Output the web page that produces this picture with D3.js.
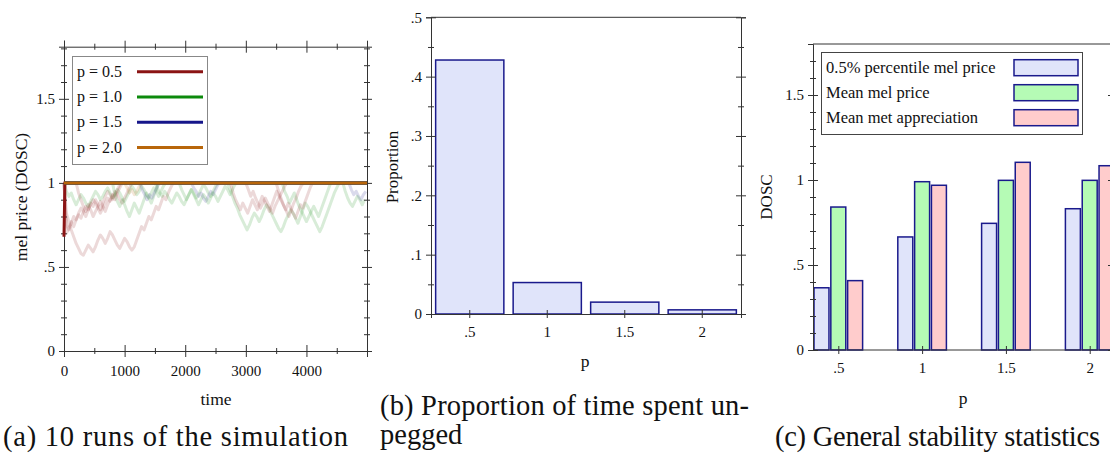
<!DOCTYPE html>
<meta charset="utf-8">
<script src="https://cdn.jsdelivr.net/npm/d3@7"></script>
<style>
  body { margin: 0; background: #fff; }
  svg text { font-family: "Liberation Serif", "DejaVu Serif", serif; fill: #111; }
</style>
<div id="fig"></div>
<script>

// ---------- data ----------
// (a) price runs
var runLabels = ["p = 0.5", "p = 1.0", "p = 1.5", "p = 2.0"];
var runColors = ["#8b1414", "#0c8a0c", "#16168a", "#b8660a"];
// solid lines (mostly pegged at 1)
var mainTimes = [[0, 15, 4999], [0, 4999], [0, 4999], [0, 4999]];
var mainVals  = [[0.68, 1, 1], [1, 1], [1, 1], [1, 1]];
// faded individual runs: which p, start time, one value every traceStep
var traceStep = 40;
var traceRun   = [0, 0, 0, 1, 1, 1, 0, 2, 2, 1, 0, 1, 0, 1, 0, 1, 3, 2];
var traceStart = [0, 0, 0, 0, 1500, 2700, 2750, 2100, 4700, 4600, 3500, 800, 200, 1900, 3000, 3600, 1000, 1250];
var traceVals = [
  [1, .82, .77, .72, .68, .64, .61, .58, .57, .60, .63, .61, .59, .62, .66, .69, .67, .64, .67, .71, .69, .66, .63, .61, .64, .67, .65, .62, .60, .62, .66, .70, .74, .72, .76, .80, .78, .82, .86, .84, .88, .92, .90, .94, .97, 1],
  [1, .75, .72, .76, .80, .78, .82, .85, .83, .80, .84, .88, .86, .90, .87, .84, .88, .92, .95, .93, .90, .93, .96, .99, 1],
  [1, .70, .73, .77, .74, .78, .81, .79, .83, .86, .84, .87, .90, .88, .85, .82, .85, .88, .91, .89, .92, .95, .93, .90, .88, .91, .94, .97, 1],
  [1, .95, .92, .94, .90, .87, .90, .93, .91, .88, .86, .89, .92, .95, .93, .90, .92, .95, .97, .94, .91, .93, .96, .94, .91, .89, .92, .95, .98, .96, .93, .95, .98, .96, .93, .91, .94, .97, .95, .92, .95, .98, 1],
  [1, .97, .94, .92, .95, .93, .90, .88, .91, .94, .92, .89, .87, .90, .93, .96, .94, .91, .93, .96, .99, .97, .94, .92, .95, .98, 1],
  [1, .96, .92, .88, .85, .81, .78, .75, .72, .75, .79, .82, .80, .77, .80, .84, .87, .85, .82, .79, .76, .73, .71, .74, .78, .81, .84, .82, .79, .76, .80, .84, .88, .86, .83, .80, .77, .74, .71, .74, .78, .82, .86, .90, .94, .97, 1],
  [1, .94, .90, .87, .84, .88, .85, .82, .86, .90, .87, .84, .88, .92, .89, .86, .83, .87, .91, .95, .92, .89, .86, .83, .80, .84, .88, .91, .95, .98, 1],
  [1, .97, .95, .92, .94, .91, .89, .92, .95, .93, .96, .99, 1],
  [1, .96, .93, .95, .92, .90, .93, .95],
  [1, .95, .91, .88, .86, .89, .92, .90, .87, .90],
  [1, .95, .91, .87, .84, .88, .85, .82, .79, .83, .87, .85, .89, .93, .97, 1],
  [1, .93, .89, .86, .90, .87, .83, .80, .84, .88, .85, .82, .86, .90, .94, .91, .88, .92, .96, 1],
  [1, .94, .90, .86, .83, .87, .84, .80, .83, .86, .89, .86, .83, .87, .90, .93, .90, .94, .97, 1],
  [1, .96, .93, .90, .93, .96, .93, .90, .87, .90, .93, .91, .88, .91, .94, .92, .89, .92, .95, .98, .96, .93, .96, .99, 1],
  [1, .96, .92, .95, .91, .88, .85, .88, .91, .88, .85, .82, .86, .89, .92, .95, .98, 1],
  [1, .95, .92, .88, .91, .94, .90, .86, .83, .80, .77, .80, .83, .86, .83, .80, .84, .88, .92, .96, 1],
  [1, .97, .94, .96, .93, .95, .98, 1],
  [1, .96, .93, .90, .93, .91, .94, .97, 1]
];

// (b) proportion of time unpegged
var pCats = [".5", "1", "1.5", "2"];
var unpegged = [0.428, 0.053, 0.020, 0.007];

// (c) stability stats
var statNames = ["0.5% percentile mel price", "Mean mel price", "Mean met appreciation"];
var pct05Mel = [0.366, 0.665, 0.745, 0.831];
var meanMel  = [0.841, 0.990, 0.998, 0.998];
var meanMet  = [0.408, 0.969, 1.104, 1.084];

// ---------- helpers ----------
var fmt = function(d) { return d === 0 ? "0" : String(+d.toFixed(2)).replace(/^0\./, "."); };
var axisColor = "#333";

// Racket-style ticks: crossing the axis line
function crossTicks(g, len) {
  g.selectAll(".tick line").attr("stroke", axisColor)
  g.selectAll(".tick line").each(function() {
    var l = d3.select(this);
    if (l.attr("x2") != null && +l.attr("x2") !== 0) l.attr("x1", len).attr("x2", -len);
    else l.attr("y1", len).attr("y2", -len);
  });
}

function yAxes(svg, y, x0, x1, major, minor) {
  var g = svg.append("g").attr("transform", "translate(" + x0 + ",0)")
    .call(d3.axisLeft(y).tickValues(major).tickFormat(fmt).tickSizeOuter(0).tickSize(5).tickPadding(4));
  g.select(".domain").attr("stroke", axisColor);
  g.selectAll("text").style("font-size", "15px").style("fill", "#111").attr("font-family", null);
  crossTicks(g, 5);
  var gm = svg.append("g").attr("transform", "translate(" + x0 + ",0)")
    .call(d3.axisLeft(y).tickValues(minor).tickFormat("").tickSizeOuter(0).tickSize(3));
  gm.select(".domain").remove();
  crossTicks(gm, 3);
  var gr = svg.append("g").attr("transform", "translate(" + x1 + ",0)")
    .call(d3.axisRight(y).tickValues(major).tickFormat("").tickSizeOuter(0).tickSize(5));
  gr.select(".domain").attr("stroke", axisColor);
  crossTicks(gr, 5);
  var grm = svg.append("g").attr("transform", "translate(" + x1 + ",0)")
    .call(d3.axisRight(y).tickValues(minor).tickFormat("").tickSizeOuter(0).tickSize(3));
  grm.select(".domain").remove();
  crossTicks(grm, 3);
}

function caption(x, y, width, t) {
  svg.append("text").attr("x", x).attr("y", y).style("font-size", "28.5px")
    .attr("textLength", width).attr("lengthAdjust", "spacing").text(t);
}

var svg = d3.select("#fig").append("svg").attr("width", 1110).attr("height", 456);

// ================= (a) =================
(function() {
  var left = 64, right = 367, top = 46.7, bottom = 351;
  var x = d3.scaleLinear().domain([0, 4999]).range([left, right]);
  var y = d3.scaleLinear().domain([0, 1.81]).range([bottom, top]);

  // faded runs
  var line = d3.line().x(function(d) { return x(d[0]); }).y(function(d) { return y(d[1]); });
  traceVals.forEach(function(vals, i) {
    var pts = vals.map(function(v, k) { return [traceStart[i] + k * traceStep, v]; });
    svg.append("path").datum(pts).attr("d", line).attr("fill", "none")
      .attr("stroke", runColors[traceRun[i]]).attr("stroke-width", 3).attr("stroke-opacity", 0.16)
      .attr("stroke-linejoin", "round");
  });

  yAxes(svg, y, left, right, [0, 0.5, 1, 1.5], d3.range(1, 19).filter(function(k) { return k % 5; }).map(function(k) { return k / 10; }));

  var xMaj = [0, 1000, 2000, 3000, 4000], xMin = [500, 1500, 2500, 3500, 4500];
  var gx = svg.append("g").attr("transform", "translate(0," + bottom + ")")
    .call(d3.axisBottom(x).tickValues(xMaj).tickFormat(d3.format("d")).tickSizeOuter(0).tickSize(6).tickPadding(8));
  gx.select(".domain").attr("stroke", axisColor);
  gx.selectAll("text").style("font-size", "15px").style("fill", "#111");
  crossTicks(gx, 6);
  var gxm = svg.append("g").attr("transform", "translate(0," + bottom + ")")
    .call(d3.axisBottom(x).tickValues(xMin).tickFormat("").tickSizeOuter(0).tickSize(3));
  gxm.select(".domain").remove();
  crossTicks(gxm, 3);
  var gt = svg.append("g").attr("transform", "translate(0," + top + ")")
    .call(d3.axisTop(x).tickValues(xMaj).tickFormat("").tickSizeOuter(0).tickSize(6));
  gt.select(".domain").attr("stroke", axisColor);
  crossTicks(gt, 6);
  var gtm = svg.append("g").attr("transform", "translate(0," + top + ")")
    .call(d3.axisTop(x).tickValues(xMin).tickFormat("").tickSizeOuter(0).tickSize(3));
  gtm.select(".domain").remove();
  crossTicks(gtm, 3);

  // solid lines drawn over the frame
  mainVals.forEach(function(vals, i) {
    var pts = vals.map(function(v, k) { return [mainTimes[i][k], v]; });
    svg.append("path").datum(pts).attr("d", line).attr("fill", "none")
      .attr("stroke", runColors[i]).attr("stroke-width", 3);
  });

  // legend
  var lg = svg.append("g");
  lg.append("rect").attr("x", 72.5).attr("y", 56.5).attr("width", 135).attr("height", 108)
    .attr("fill", "#fff").attr("stroke", "#888");
  runLabels.forEach(function(t, i) {
    var cy = 71.7 + i * 25.3;
    lg.append("text").attr("x", 77).attr("y", cy + 5).style("font-size", "16px").text(t);
    lg.append("line").attr("x1", 137).attr("x2", 203).attr("y1", cy).attr("y2", cy)
      .attr("stroke", runColors[i]).attr("stroke-width", 3);
  });

  svg.append("text").attr("transform", "translate(27,197) rotate(-90)").attr("text-anchor", "middle")
    .style("font-size", "17.5px").text("mel price (DOSC)");
  svg.append("text").attr("x", 216).attr("y", 405).attr("text-anchor", "middle")
    .style("font-size", "17.5px").text("time");
  caption(3, 446, 345, "(a) 10 runs of the simulation");
})();

// ================= (b) =================
(function() {
  var left = 431, right = 741, top = 17.3, bottom = 314;
  var x = d3.scaleBand().domain(pCats).range([left, right]).paddingInner(0.12).paddingOuter(0.06);
  var y = d3.scaleLinear().domain([0, 0.5]).range([bottom, top]);

  svg.append("g").selectAll("rect").data(unpegged).enter().append("rect")
    .attr("x", function(d, i) { return x(pCats[i]); })
    .attr("y", function(d) { return y(d); })
    .attr("width", x.bandwidth())
    .attr("height", function(d) { return bottom - y(d); })
    .attr("fill", "#e0e4fa").attr("stroke", "#1a1a8c").attr("stroke-width", 1.5);

  yAxes(svg, y, left, right, [0, .1, .2, .3, .4, .5], [.05, .15, .25, .35, .45]);

  var gx = svg.append("g").attr("transform", "translate(0," + bottom + ")")
    .call(d3.axisBottom(x).tickSizeOuter(0).tickSize(4).tickPadding(8));
  gx.select(".domain").attr("stroke", axisColor);
  gx.selectAll("text").style("font-size", "15px").style("fill", "#111");
  crossTicks(gx, 4);
  svg.append("line").attr("x1", left).attr("x2", right).attr("y1", top).attr("y2", top).attr("stroke", axisColor);

  svg.append("text").attr("transform", "translate(398,167) rotate(-90)").attr("text-anchor", "middle")
    .style("font-size", "17px").text("Proportion");
  svg.append("text").attr("x", 585).attr("y", 367).attr("text-anchor", "middle")
    .style("font-size", "17.5px").text("p");
  caption(380, 415, 369, "(b) Proportion of time spent un-");
  svg.append("text").attr("x", 380).attr("y", 444).style("font-size", "28.5px").text("pegged");
})();

// ================= (c) =================
(function() {
  var left = 813, right = 1113, top = 44, bottom = 350;
  var step = 83.8, pi = 0.42, po = 0.012;
  var x = d3.scaleBand().domain(pCats).range([left, left + step * (4 - pi + 2 * po)]).paddingInner(pi).paddingOuter(po);
  var xs = d3.scaleBand().domain(statNames).range([0, x.bandwidth()]).paddingInner(0.11);
  var y = d3.scaleLinear().domain([0, 1.8]).range([bottom, top]);
  var fills = ["#e0e4fa", "#b5fbb5", "#ffcccc"];
  var series = [pct05Mel, meanMel, meanMet];

  svg.append("defs").append("clipPath").attr("id", "clipc").append("rect")
    .attr("x", left).attr("y", 0).attr("width", right - left).attr("height", bottom + 2);
  var gb = svg.append("g").attr("clip-path", "url(#clipc)");
  series.forEach(function(vals, s) {
    gb.selectAll(null).data(vals).enter().append("rect")
      .attr("x", function(d, i) { return x(pCats[i]) + xs(statNames[s]); })
      .attr("y", function(d) { return y(d); })
      .attr("width", xs.bandwidth())
      .attr("height", function(d) { return bottom - y(d); })
      .attr("fill", fills[s]).attr("stroke", "#1a1a8c").attr("stroke-width", 1.5);
  });

  yAxes(svg, y, left, right, [0, 0.5, 1, 1.5], d3.range(1, 18).filter(function(k) { return k % 5; }).map(function(k) { return k / 10; }));

  var xc = d3.scalePoint().domain(pCats).range([x(pCats[0]) + x.bandwidth() / 2, x(pCats[3]) + x.bandwidth() / 2]);
  var gx = svg.append("g").attr("transform", "translate(0," + bottom + ")")
    .call(d3.axisBottom(xc).tickSizeOuter(0).tickSize(4).tickPadding(8));
  gx.select(".domain").remove();
  gx.selectAll("text").style("font-size", "15px").style("fill", "#111");
  crossTicks(gx, 4);
  svg.append("line").attr("x1", left).attr("x2", right).attr("y1", bottom).attr("y2", bottom).attr("stroke", axisColor);
  svg.append("line").attr("x1", left).attr("x2", right).attr("y1", top).attr("y2", top).attr("stroke", axisColor);

  // legend
  var lg = svg.append("g");
  lg.append("rect").attr("x", 821.5).attr("y", 52.5).attr("width", 261).attr("height", 82)
    .attr("fill", "#fff").attr("stroke", "#444");
  statNames.forEach(function(t, i) {
    var cy = 67.7 + i * 25;
    lg.append("text").attr("x", 826).attr("y", cy + 5.5).style("font-size", "16.5px").text(t);
    lg.append("rect").attr("x", 1014).attr("y", cy - 8).attr("width", 64).attr("height", 16)
      .attr("fill", fills[i]).attr("stroke", "#1a1a8c").attr("stroke-width", 1.5);
  });

  svg.append("text").attr("transform", "translate(772,197) rotate(-90)").attr("text-anchor", "middle")
    .style("font-size", "17px").text("DOSC");
  svg.append("text").attr("x", 963).attr("y", 404).attr("text-anchor", "middle")
    .style("font-size", "17.5px").text("p");
  caption(775, 446, 325, "(c) General stability statistics");
})();

</script>
